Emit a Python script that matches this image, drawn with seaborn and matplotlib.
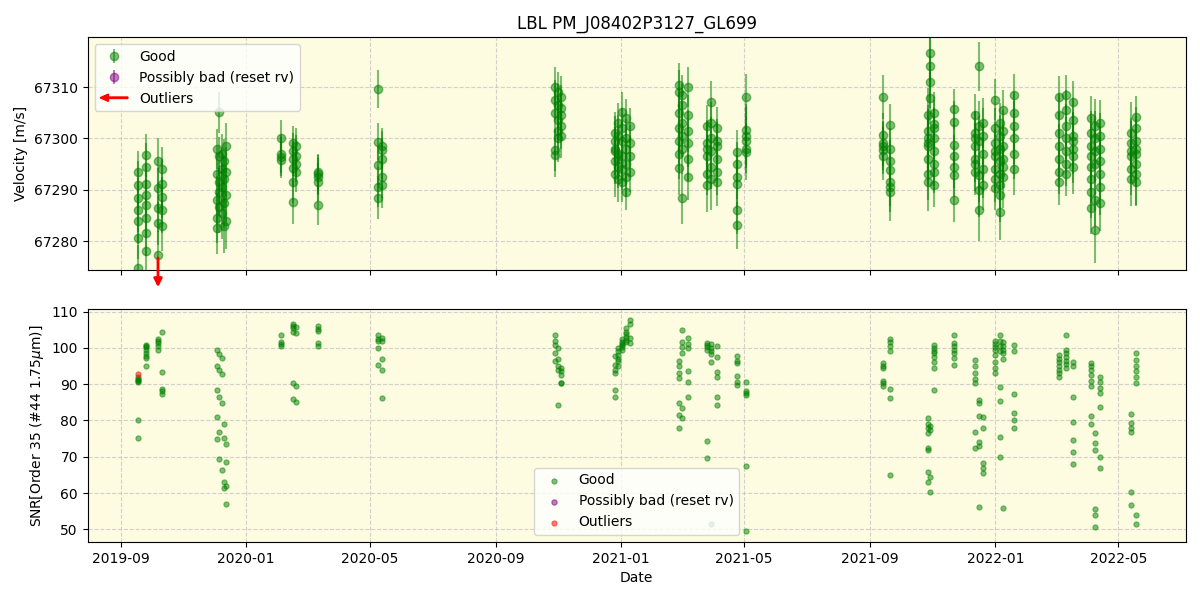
import matplotlib
matplotlib.use("Agg")
import matplotlib.pyplot as plt
import matplotlib.dates as mdates
import matplotlib.patches as mpatches
from matplotlib.legend_handler import HandlerPatch
import seaborn as sns
import numpy as np
import pandas as pd

# observing nights and number of exposures per night
nights = [
    "2019-09-17", "2019-09-25", "2019-10-07", "2019-10-11",
    "2019-12-04", "2019-12-06", "2019-12-08", "2019-12-10", "2019-12-12",
    "2020-02-04", "2020-02-16", "2020-02-19", "2020-03-11",
    "2020-05-09", "2020-05-13",
    "2020-10-28", "2020-10-31", "2020-11-03",
    "2020-12-26", "2020-12-29", "2021-01-02", "2021-01-06", "2021-01-10",
    "2021-02-26", "2021-03-01", "2021-03-07",
    "2021-03-26", "2021-03-30", "2021-04-04",
    "2021-04-24", "2021-05-03",
    "2021-09-13", "2021-09-20",
    "2021-10-27", "2021-10-29", "2021-11-02",
    "2021-11-22",
    "2021-12-12", "2021-12-16", "2021-12-20",
    "2022-01-01", "2022-01-06", "2022-01-09", "2022-01-19",
    "2022-03-04", "2022-03-11", "2022-03-18",
    "2022-04-04", "2022-04-08", "2022-04-13",
    "2022-05-13", "2022-05-18",
]
n_per_night = [
    7, 8, 5, 5,
    5, 5, 4, 4, 4,
    4, 6, 4, 5,
    5, 5,
    5, 5, 5,
    6, 6, 6, 6, 4,
    7, 6, 6,
    6, 6, 6,
    6, 6,
    6, 7,
    8, 4, 8,
    7,
    7, 6, 5,
    8, 8, 6, 6,
    7, 7, 7,
    8, 6, 7,
    6, 8,
]

rv = [
    67293.5, 67291.0, 67288.4, 67286.0, 67284.0, 67280.5, 67274.8,
    67296.7, 67294.5, 67291.2, 67289.0, 67287.0, 67284.5, 67281.5, 67278.0,
    67295.6, 67290.3, 67286.5, 67283.5, 67277.3,
    67294.0, 67291.2, 67288.5, 67286.0, 67283.0,
    67298.0, 67293.0, 67288.0, 67284.5, 67282.5,
    67305.1, 67296.5, 67291.5, 67289.5, 67286.7,
    67297.0, 67294.0, 67290.6, 67285.5,
    67295.5, 67292.0, 67287.5, 67283.0,
    67298.5, 67293.5, 67289.0, 67284.0,
    67300.0, 67296.4, 67295.8, 67297.0,
    67299.0, 67297.5, 67296.0, 67294.2, 67291.5, 67287.6,
    67298.5, 67295.0, 67293.5, 67296.5,
    67293.5, 67292.5, 67291.5, 67293.0, 67287.1,
    67309.7, 67299.3, 67294.8, 67290.6, 67288.4,
    67298.5, 67297.7, 67296.0, 67292.5, 67291.0,
    67310.0, 67307.5, 67305.0, 67297.7, 67296.7,
    67309.0, 67306.5, 67303.5, 67301.5, 67300.0,
    67308.0, 67306.0, 67304.5, 67302.5, 67300.5,
    67301.0, 67298.0, 67295.5, 67293.0, 67297.5, 67299.5,
    67303.0, 67300.5, 67297.0, 67294.5, 67292.0, 67296.0,
    67305.2, 67302.0, 67299.5, 67296.5, 67294.0, 67291.5,
    67304.0, 67300.0, 67298.0, 67295.0, 67292.5, 67289.6,
    67302.5, 67299.0, 67296.5, 67293.5,
    67310.4, 67309.0, 67305.0, 67302.0, 67299.5, 67297.0, 67294.2,
    67308.5, 67306.5, 67303.0, 67300.5, 67298.0, 67288.3,
    67310.0, 67304.5, 67301.5, 67296.0, 67292.5, 67299.0,
    67302.5, 67299.0, 67296.5, 67293.0, 67290.9, 67298.0,
    67307.1, 67303.0, 67300.0, 67297.5, 67294.5, 67292.0,
    67302.0, 67299.5, 67296.0, 67293.5, 67291.5, 67298.5,
    67297.4, 67295.0, 67292.5, 67291.2, 67286.0, 67283.1,
    67308.1, 67301.6, 67299.5, 67298.0, 67297.4, 67300.5,
    67308.1, 67300.6, 67299.0, 67297.7, 67296.5, 67298.5,
    67302.6, 67298.0, 67295.5, 67293.8, 67291.5, 67290.5, 67289.6,
    67298.5, 67301.5, 67296.0, 67293.0, 67299.0, 67304.5, 67291.5, 67300.0,
    67316.6, 67314.0, 67311.0, 67307.8,
    67305.0, 67302.0, 67300.0, 67297.5, 67295.0, 67293.5, 67290.9, 67302.8,
    67305.7, 67303.2, 67298.7, 67296.5, 67294.5, 67292.8, 67288.0,
    67304.5, 67301.0, 67298.5, 67296.0, 67293.5, 67300.0, 67295.0,
    67314.0, 67302.5, 67299.5, 67292.8, 67289.9, 67286.0,
    67303.0, 67300.5, 67297.0, 67294.0, 67291.0,
    67307.5, 67302.0, 67299.0, 67296.5, 67294.0, 67292.0, 67290.3, 67297.5,
    67303.0, 67300.5, 67298.0, 67295.5, 67293.0, 67291.0, 67289.0, 67285.7,
    67305.5, 67301.5, 67298.5, 67296.0, 67294.5, 67292.5,
    67308.4, 67305.0, 67302.5, 67300.0, 67297.0, 67294.0,
    67308.0, 67304.5, 67301.0, 67298.5, 67296.0, 67293.5, 67291.5,
    67308.4, 67305.5, 67302.5, 67300.0, 67297.5, 67295.0, 67293.0,
    67307.0, 67303.5, 67300.5, 67298.0, 67296.5, 67294.5, 67299.5,
    67303.9, 67301.0, 67298.5, 67296.5, 67294.5, 67292.0, 67289.5, 67286.4,
    67302.5, 67300.0, 67297.5, 67295.0, 67282.1, 67288.0,
    67303.0, 67300.5, 67298.0, 67295.5, 67293.0, 67290.5, 67287.5,
    67299.0, 67296.5, 67294.0, 67292.0, 67297.5, 67301.0,
    67304.2, 67302.0, 67299.5, 67297.0, 67295.0, 67291.5, 67293.0, 67298.0,
]

rv_err = [
    4.0, 4.5, 3.8, 4.2, 4.6, 4.0, 4.4,
    4.1, 4.6, 3.9, 4.3, 4.8, 4.0, 4.5, 4.2,
    4.5, 4.0, 4.8, 4.2, 4.6,
    4.3, 4.7, 4.0, 4.4, 4.9,
    3.9, 4.2, 4.6, 4.8, 5.0,
    4.0, 3.8, 4.3, 4.7, 5.2,
    3.9, 4.1, 4.5, 5.1,
    4.4, 4.6, 5.0, 5.3,
    4.5, 4.8, 5.2, 5.6,
    3.6, 3.8, 3.5, 3.7,
    3.5, 3.6, 3.4, 3.7, 4.0, 4.3,
    3.6, 3.5, 4.0, 4.2,
    3.5, 3.6, 3.7, 3.8, 3.9,
    3.7, 3.6, 3.8, 3.9, 4.2,
    3.6, 3.7, 4.0, 4.1, 4.5,
    3.8, 3.9, 4.0, 4.1, 4.2,
    4.0, 4.1, 4.3, 4.2, 4.6,
    4.2, 4.3, 4.4, 4.5, 4.4,
    4.1, 4.3, 4.4, 4.5, 4.7, 4.8,
    3.9, 4.0, 4.1, 4.2, 4.3, 4.1,
    3.8, 3.9, 3.9, 4.0, 4.0, 3.9,
    3.7, 3.7, 3.8, 3.8, 3.9, 3.6,
    3.5, 3.6, 3.8, 3.9,
    4.2, 4.3, 4.4, 4.5, 4.9, 5.0, 5.2,
    3.8, 4.0, 4.1, 4.2, 4.9, 5.0,
    3.9, 4.0, 4.1, 4.4, 4.5, 4.6,
    4.0, 4.0, 4.1, 4.1, 5.2, 5.5,
    4.0, 4.1, 4.1, 4.2, 4.3, 6.0,
    4.1, 4.2, 4.4, 4.5, 4.6, 4.7,
    4.2, 4.3, 4.3, 4.5, 4.6, 4.6,
    4.5, 4.6, 4.6, 4.7, 5.6, 6.2,
    4.3, 4.3, 4.4, 4.6, 4.6, 4.7,
    4.0, 4.0, 4.1, 4.1, 4.7, 4.8, 5.6,
    5.0, 5.0, 5.1, 5.1, 5.3, 5.4, 5.6, 5.7,
    5.6, 5.9, 5.0, 5.1,
    4.0, 4.0, 4.1, 4.1, 4.2, 4.2, 4.3, 4.6,
    3.9, 4.0, 4.0, 4.1, 4.1, 4.2, 4.2,
    4.2, 4.3, 4.4, 4.5, 4.5, 5.1, 5.3,
    4.7, 4.7, 4.9, 5.2, 5.3, 6.0,
    4.9, 5.5, 5.6, 5.7, 5.0,
    4.0, 4.0, 4.1, 4.1, 4.2, 4.3, 4.3, 4.4,
    3.9, 4.0, 4.1, 4.1, 4.6, 4.8, 5.3, 5.5,
    4.0, 4.1, 4.1, 4.2, 4.2, 6.1,
    4.1, 4.1, 4.7, 4.9, 5.0, 5.1,
    4.1, 4.1, 4.2, 4.2, 4.3, 4.3, 4.4,
    3.9, 4.0, 4.1, 4.1, 4.2, 4.2, 4.3,
    4.2, 4.3, 4.6, 5.0, 5.2, 5.4, 5.5,
    4.3, 4.3, 4.4, 4.4, 4.5, 4.5, 5.0, 5.1,
    5.2, 5.3, 6.0, 6.1, 6.4, 5.1,
    4.4, 4.5, 4.5, 4.6, 4.8, 5.4, 5.5,
    5.0, 5.1, 5.1, 5.2, 5.9, 6.1,
    4.1, 4.2, 4.3, 4.3, 4.4, 4.5, 6.2, 6.4,
]

snr = [
    92.0, 91.5, 90.6, 91.0, 80.0, 75.1, 91.2,
    100.9, 100.2, 99.5, 98.6, 97.8, 97.3, 95.0, 100.5,
    102.3, 101.3, 100.5, 99.5, 101.8,
    104.4, 93.3, 88.8, 88.0, 87.3,
    99.3, 95.1, 88.3, 80.9, 74.8,
    98.2, 94.0, 86.5, 76.8, 69.3,
    97.2, 92.9, 84.8, 66.4,
    79.1, 75.2, 63.1, 61.3,
    73.5, 68.5, 62.0, 57.1,
    103.6, 101.0, 100.4, 101.5,
    106.7, 106.0, 105.5, 104.5, 90.3, 85.9,
    105.8, 104.2, 89.4, 85.2,
    105.9, 105.3, 104.6, 101.3, 100.4,
    103.6, 102.5, 101.8, 100.0, 95.3,
    102.8, 102.0, 97.0, 93.9, 86.1,
    103.6, 101.8, 100.9, 98.6, 96.3,
    100.0, 96.8, 94.9, 94.0, 84.2,
    94.5, 93.5, 92.6, 90.3, 90.3,
    97.7, 95.4, 94.0, 93.1, 88.3, 86.6,
    100.0, 99.2, 98.1, 96.5, 95.0, 97.0,
    102.5, 101.5, 100.8, 100.2, 99.5, 101.0,
    104.5, 103.8, 103.0, 102.2, 101.5, 105.5,
    107.8, 106.5, 102.8, 101.2,
    96.3, 95.0, 93.0, 91.7, 84.8, 81.6, 77.9,
    105.0, 101.5, 100.2, 98.6, 83.4, 80.7,
    102.8, 101.0, 100.0, 93.5, 90.7, 86.6,
    101.4, 100.8, 100.2, 99.5, 74.4, 69.6,
    101.0, 100.0, 99.0, 98.2, 96.0, 51.6,
    100.5, 97.6, 93.4, 92.0, 86.6, 84.3,
    97.8, 96.3, 95.8, 92.3, 90.7, 89.8,
    90.7, 88.0, 87.5, 87.1, 67.5, 49.5,
    95.8, 95.0, 94.4, 91.0, 90.2, 89.6,
    102.3, 101.5, 100.5, 99.0, 88.6, 86.1, 64.9,
    80.6, 79.0, 78.0, 76.5, 72.3, 71.9, 65.9, 63.1,
    64.5, 60.2, 78.5, 77.5,
    100.9, 100.0, 99.2, 98.5, 97.5, 96.0, 94.4, 88.5,
    103.6, 101.3, 100.5, 99.5, 98.5, 97.2, 95.4,
    96.7, 95.0, 93.0, 91.5, 90.3, 76.9, 72.3,
    85.7, 84.8, 81.1, 74.0, 73.0, 56.2,
    81.0, 68.2, 67.0, 65.4, 78.0,
    101.8, 101.0, 100.2, 99.5, 98.0, 96.0, 94.5, 93.1,
    103.6, 102.0, 100.5, 99.0, 89.2, 85.3, 75.4, 69.9,
    101.5, 100.5, 99.5, 98.5, 97.0, 55.8,
    100.8, 99.0, 87.3, 82.0, 80.0, 77.9,
    98.0, 97.0, 96.0, 95.0, 94.0, 93.0, 92.0,
    103.5, 99.5, 98.5, 97.5, 96.5, 95.5, 94.5,
    96.0, 95.0, 86.6, 79.7, 74.6, 71.4, 67.9,
    95.8, 95.0, 94.0, 92.5, 91.0, 89.5, 81.1, 79.0,
    73.7, 72.0, 55.6, 54.0, 50.7, 76.5,
    92.0, 90.5, 89.0, 87.5, 83.8, 70.0, 66.8,
    81.7, 79.2, 78.0, 76.9, 60.4, 56.6,
    98.6, 96.7, 95.0, 93.5, 92.0, 90.3, 53.9, 51.6,
]

# outliers: one rv point off the bottom of the plot, one flagged snr point
outlier_rv_dates = ["2019-10-07"]
outlier_snr_dates = ["2019-09-17"]
outlier_snr = [92.9]

rv_ylim = (67274.35, 67319.7)

obs_dates = pd.to_datetime(np.repeat(nights, n_per_night))
assert len(obs_dates) == len(rv) == len(rv_err) == len(snr)

df = pd.DataFrame({"date": obs_dates, "rv": rv, "rv_err": rv_err, "snr": snr})


def make_legend_arrow(legend, orig_handle, xdescent, ydescent, width, height, fontsize):
    return mpatches.FancyArrow(width, 0.5 * height, -width, 0, length_includes_head=True,
                               head_width=0.75 * height, head_length=0.3 * width,
                               width=0.15 * height, color="red")


fig, (ax1, ax2) = plt.subplots(2, 1, figsize=(12, 6), dpi=100, sharex=True)
fig.subplots_adjust(left=0.073, right=0.988, top=0.938, bottom=0.097, hspace=0.167)

for ax in (ax1, ax2):
    ax.set_facecolor("#fdfce1")
    ax.grid(True, linestyle="--", color="0.75", linewidth=0.8, alpha=0.7)
    ax.set_axisbelow(True)

# top panel: velocities
ax1.errorbar(df["date"], df["rv"], yerr=df["rv_err"], fmt="o", color="green",
             alpha=0.5, ms=6, label="Good")
ax1.errorbar([], [], yerr=[], fmt="o", color="purple", alpha=0.5, ms=6,
             label="Possibly bad (reset rv)")
ax1.set_ylim(*rv_ylim)
for d in pd.to_datetime(outlier_rv_dates):
    ax1.annotate("", xy=(d, rv_ylim[0] - 3.9), xytext=(d, rv_ylim[0] + 2.9),
                 arrowprops=dict(arrowstyle="-|>", color="red", lw=2, mutation_scale=12),
                 annotation_clip=False)
arrow_handle = mpatches.FancyArrow(0, 0, 1, 0, color="red", label="Outliers")
h, l = ax1.get_legend_handles_labels()
ax1.legend(h + [arrow_handle], l + ["Outliers"], loc="upper left",
           handler_map={mpatches.FancyArrow: HandlerPatch(patch_func=make_legend_arrow)})
ax1.set_ylabel("Velocity [m/s]")
ax1.set_title("LBL PM_J08402P3127_GL699")

# bottom panel: SNR
sns.scatterplot(data=df, x="date", y="snr", ax=ax2, color="green", alpha=0.5,
                s=14, edgecolor="green", linewidth=0.8, label="Good")
ax2.scatter([], [], color="purple", alpha=0.5, s=14, label="Possibly bad (reset rv)")
sns.scatterplot(x=pd.to_datetime(outlier_snr_dates), y=outlier_snr, ax=ax2, color="red",
                alpha=0.5, s=14, edgecolor="red", linewidth=0.8, label="Outliers")
ax2.legend(loc="lower center")
ax2.set_ylabel(r"SNR[Order 35 (#44 1.75$\mu$m)]")
ax2.set_xlabel("Date")

ax2.xaxis.set_major_locator(mdates.MonthLocator(bymonth=[1, 5, 9]))
ax2.xaxis.set_major_formatter(mdates.DateFormatter("%Y-%m"))

fig.savefig("out.png")
